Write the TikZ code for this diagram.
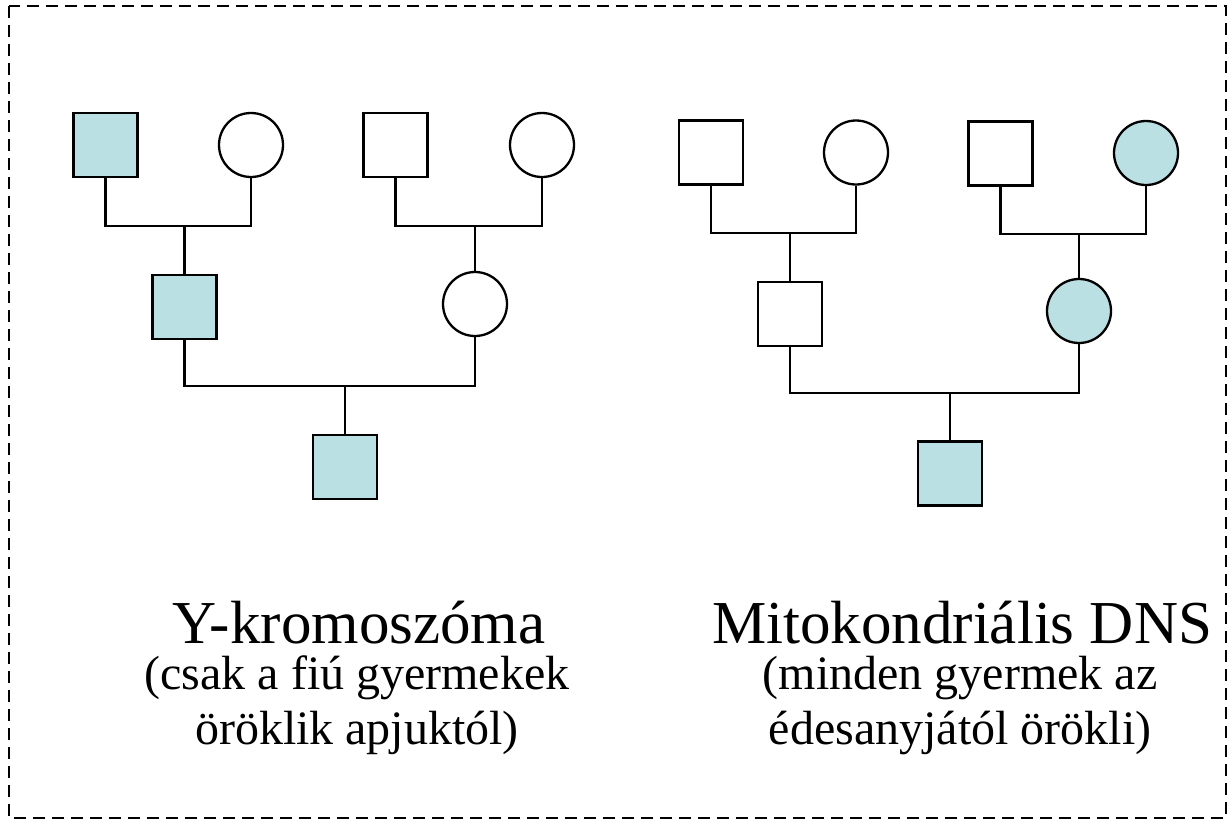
\documentclass[tikz,border=0pt]{standalone}
\usepackage{fontspec}
\setmainfont{Liberation Serif}
\usetikzlibrary{positioning}
\definecolor{carrier}{HTML}{BBE0E3}

\begin{document}
\begin{tikzpicture}[
    x=1pt, y=-1pt,
    line width=2.3pt,
    male/.style={draw, rectangle, minimum size=64pt, inner sep=0pt, fill=#1},
    male/.default=white,
    female/.style={draw, circle, minimum size=64pt, inner sep=0pt, fill=#1},
    female/.default=white,
    link/.style={draw, line width=2.3pt},
    title/.style={font=\fontsize{61}{68}\selectfont, anchor=base, inner sep=0pt},
    note/.style={font=\fontsize{48}{55}\selectfont, align=center, anchor=north, inner sep=0pt},
]

% Frame
\useasboundingbox (0,0) rectangle (1230,822);
\draw[dashed, dash pattern=on 12pt off 7pt, line width=1.8pt] (9,6) rectangle (1226,818);

% Y chromosome pedigree
\node[male=carrier] (ygf1) at (105.5,145) {};
\node[female] (ygm1) at (251,145) {};
\node[male] (ygf2) at (395.5,145) {};
\node[female] (ygm2) at (542,145) {};
\node[male=carrier] (yfather) at (184.5,307) {};
\node[female] (ymother) at (475,304) {};
\node[male=carrier] (yson) at (345,467) {};

\coordinate (ycouple1) at (184.5,226);
\coordinate (ycouple2) at (475,226);
\coordinate (yparents) at (345,386);
\draw[link] (ygf1.south) |- (ycouple1) -| (ygm1.south);
\draw[link] (ygf2.south) |- (ycouple2) -| (ygm2.south);
\draw[link] (ycouple1) -- (yfather.north);
\draw[link] (ycouple2) -- (ymother.north);
\draw[link] (yfather.south) |- (yparents) -| (ymother.south);
\draw[link] (yparents) -- (yson.north);

% Mitochondrial DNA pedigree
\node[male] (mgf1) at (711,152.5) {};
\node[female] (mgm1) at (856,152.5) {};
\node[male] (mgf2) at (1000.5,153.5) {};
\node[female=carrier] (mgm2) at (1146,153) {};
\node[male] (mfather) at (790,314) {};
\node[female=carrier] (mmother) at (1079,311) {};
\node[male=carrier] (mson) at (950,473.5) {};

\coordinate (mcouple1) at (790,233);
\coordinate (mcouple2) at (1079,234);
\coordinate (mparents) at (950,393);
\draw[link] (mgf1.south) |- (mcouple1) -| (mgm1.south);
\draw[link] (mgf2.south) |- (mcouple2) -| (mgm2.south);
\draw[link] (mcouple1) -- (mfather.north);
\draw[link] (mcouple2) -- (mmother.north);
\draw[link] (mfather.south) |- (mparents) -| (mmother.south);
\draw[link] (mparents) -- (mson.north);

% Captions
\node[title] (ytitle) at (359,643) {Y-kromoszóma};
\node[note] (ynote) at (357,655) {(csak a fiú gyermekek\\öröklik apjuktól)};
\node[title] (mtitle) at (962,643) {Mitokondriális DNS};
\node[note] (mnote) at (960,655) {(minden gyermek az\\édesanyjától örökli)};

\end{tikzpicture}
\end{document}
